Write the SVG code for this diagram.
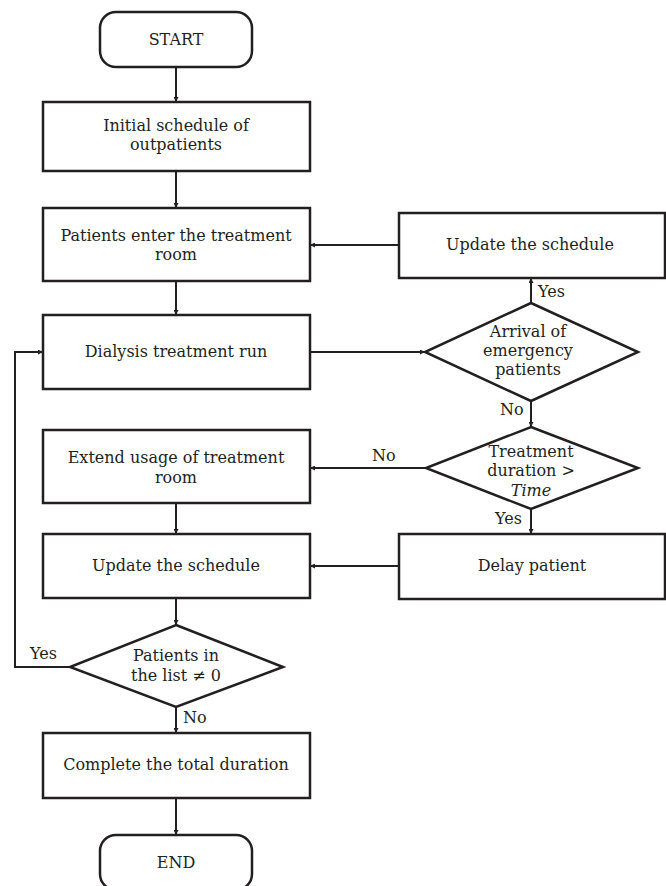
<svg xmlns="http://www.w3.org/2000/svg" width="666" height="886" viewBox="0 0 666 886">
<defs>
<marker id="ah" viewBox="0 0 10 10" refX="10" refY="5" markerWidth="6" markerHeight="5" markerUnits="userSpaceOnUse" orient="auto">
<path d="M0,0 L10,5 L0,10 Z" fill="#231f20"/>
</marker>
<style>
.box{fill:#fff;stroke:#231f20;stroke-width:2.5}
.t{font-family:"DejaVu Serif","Liberation Serif",serif;font-size:16px;fill:#231f20;text-anchor:middle}
.l{font-family:"DejaVu Serif","Liberation Serif",serif;font-size:16px;fill:#231f20}
.c{fill:none;stroke:#231f20;stroke-width:2}
.ca{fill:none;stroke:#231f20;stroke-width:2;marker-end:url(#ah)}
</style>
</defs>
<rect width="666" height="886" fill="#fff"/>
<g id="connectors">
<path class="ca" d="M176,67 V102"/>
<path class="ca" d="M176,171 V208"/>
<path class="ca" d="M176,281 V315"/>
<path class="ca" d="M310,352 H425"/>
<path class="ca" d="M531,303 V278"/>
<path class="ca" d="M399,245 H310"/>
<path class="ca" d="M531,401 V427"/>
<path class="ca" d="M426,468 H310"/>
<path class="ca" d="M531,509 V534"/>
<path class="ca" d="M399,566 H310"/>
<path class="ca" d="M176,503 V534"/>
<path class="ca" d="M176,598 V625"/>
<path class="ca" d="M70,667 H15 V352 H43"/>
<path class="ca" d="M176,707 V733"/>
<path class="ca" d="M176,798 V835"/>
<text class="l" x="538" y="297">Yes</text>
<text class="l" x="500" y="415">No</text>
<text class="l" x="372" y="461">No</text>
<text class="l" x="495" y="524">Yes</text>
<text class="l" x="30" y="659">Yes</text>
<text class="l" x="183" y="723">No</text>
</g>
<g id="start">
<rect class="box" x="100" y="12" width="152" height="55" rx="16"/>
<text class="t" x="176" y="45">START</text>
</g>
<g id="initial">
<rect class="box" x="43" y="102" width="267" height="69"/>
<text class="t" x="176" y="131">Initial schedule of</text>
<text class="t" x="176" y="150">outpatients</text>
</g>
<g id="enter">
<rect class="box" x="43" y="208" width="267" height="73"/>
<text class="t" x="176" y="241">Patients enter the treatment</text>
<text class="t" x="176" y="260">room</text>
</g>
<g id="dialysis">
<rect class="box" x="43" y="315" width="267" height="74"/>
<text class="t" x="176" y="357">Dialysis treatment run</text>
</g>
<g id="update1">
<rect class="box" x="399" y="213" width="266" height="65"/>
<text class="t" x="530" y="250">Update the schedule</text>
</g>
<g id="arrival">
<polygon class="box" points="531,303 638,352 531,401 425,352"/>
<text class="t" x="528" y="337">Arrival of</text>
<text class="t" x="528" y="356">emergency</text>
<text class="t" x="528" y="375">patients</text>
</g>
<g id="duration">
<polygon class="box" points="531,427 638,468 531,509 426,468"/>
<text class="t" x="531" y="457">Treatment</text>
<text class="t" x="531" y="476">duration &gt;</text>
<text class="t" x="531" y="496" font-style="italic">Time</text>
</g>
<g id="extend">
<rect class="box" x="43" y="430" width="267" height="73"/>
<text class="t" x="176" y="463">Extend usage of treatment</text>
<text class="t" x="176" y="483">room</text>
</g>
<g id="delay">
<rect class="box" x="399" y="534" width="266" height="65"/>
<text class="t" x="532" y="571">Delay patient</text>
</g>
<g id="update2">
<rect class="box" x="43" y="534" width="267" height="64"/>
<text class="t" x="176" y="571">Update the schedule</text>
</g>
<g id="inlist">
<polygon class="box" points="176,625 283,667 176,707 70,667"/>
<text class="t" x="176" y="661">Patients in</text>
<text class="t" x="176" y="681">the list ≠ 0</text>
</g>
<g id="complete">
<rect class="box" x="43" y="733" width="267" height="65"/>
<text class="t" x="176" y="770">Complete the total duration</text>
</g>
<g id="end">
<rect class="box" x="100" y="835" width="152" height="55" rx="16"/>
<text class="t" x="176" y="868">END</text>
</g>
</svg>
